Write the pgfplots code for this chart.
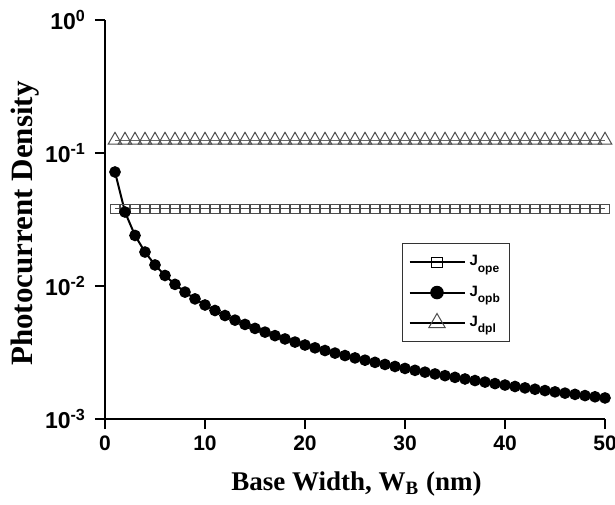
\documentclass[border=0pt]{standalone}
\usepackage{pgfplots}
\pgfplotsset{compat=1.18}
\usepackage{pgfplotstable}
\usepackage{fontspec}
\setmainfont{Liberation Serif}
\newfontfamily\arial{Liberation Sans}
\newcommand{\sub}[1]{\raisebox{-3.2pt}{\fontsize{6}{7}\selectfont #1}}

\pgfplotstableread{
x ope opb dpl
1 0.038 0.072 0.125
2 0.038 0.036 0.125
3 0.038 0.024 0.125
4 0.038 0.018 0.125
5 0.038 0.0144 0.125
6 0.038 0.012 0.125
7 0.038 0.01029 0.125
8 0.038 0.009 0.125
9 0.038 0.008 0.125
10 0.038 0.0072 0.125
11 0.038 0.006545 0.125
12 0.038 0.006 0.125
13 0.038 0.005538 0.125
14 0.038 0.005143 0.125
15 0.038 0.0048 0.125
16 0.038 0.0045 0.125
17 0.038 0.004235 0.125
18 0.038 0.004 0.125
19 0.038 0.003789 0.125
20 0.038 0.0036 0.125
21 0.038 0.003429 0.125
22 0.038 0.003273 0.125
23 0.038 0.00313 0.125
24 0.038 0.003 0.125
25 0.038 0.00288 0.125
26 0.038 0.002769 0.125
27 0.038 0.002667 0.125
28 0.038 0.002571 0.125
29 0.038 0.002483 0.125
30 0.038 0.0024 0.125
31 0.038 0.002323 0.125
32 0.038 0.00225 0.125
33 0.038 0.002182 0.125
34 0.038 0.002118 0.125
35 0.038 0.002057 0.125
36 0.038 0.002 0.125
37 0.038 0.001946 0.125
38 0.038 0.001895 0.125
39 0.038 0.001846 0.125
40 0.038 0.0018 0.125
41 0.038 0.001756 0.125
42 0.038 0.001714 0.125
43 0.038 0.001674 0.125
44 0.038 0.001636 0.125
45 0.038 0.0016 0.125
46 0.038 0.001565 0.125
47 0.038 0.001532 0.125
48 0.038 0.0015 0.125
49 0.038 0.001469 0.125
50 0.038 0.00144 0.125
}\data

\begin{document}
\begin{tikzpicture}[x=1pt,y=1pt]
\path[use as bounding box] (-52.5,-42.5) rectangle (255,209.5);
\begin{axis}[
  at={(0,0)}, anchor=south west,
  scale only axis, width=250pt, height=199.5pt,
  xmin=0, xmax=50, ymode=log, ymin=1e-3, ymax=1,
  axis lines*=left,
  axis line style={line width=1pt},
  tick align=outside, major tick length=5pt,
  tick style={line width=1pt, black},
  xtick={0,10,20,30,40,50},
  ytick={1e-3,1e-2,1e-1,1},
  yticklabels={10\textsuperscript{-3},10\textsuperscript{-2},10\textsuperscript{-1},10\textsuperscript{0}},
  xminorticks=false, yminorticks=false,
  /pgf/number format/assume math mode=true,
  ticklabel style={font=\arial\bfseries\fontsize{10.5}{12}\selectfont},
  yticklabel style={font=\arial\bfseries\fontsize{11.5}{13}\selectfont, xshift=-1pt},
  xlabel={Base Width, W\textsubscript{B} (nm)},
  ylabel={Photocurrent Density},
  label style={font=\bfseries\fontsize{13.5}{15}\selectfont},
  xlabel style={at={(axis description cs:0.503,-0.163)}, anchor=center},
  ylabel style={at={(axis description cs:-0.16,0.49)}, anchor=center, font=\bfseries\fontsize{15.5}{17}\selectfont},
  legend style={at={(0.594,0.441)}, anchor=north west, draw=black!80, line width=0.5pt,
    font=\arial\bfseries\fontsize{7.5}{8}\selectfont, inner xsep=3pt, inner ysep=4pt,
    row sep=4.5pt, cells={anchor=west}},
  legend image code/.code={%
    \draw[#1, line width=1pt, black, mark repeat=2, mark phase=2, every mark/.append style={scale=1.2}]
      plot coordinates {(0pt,0pt) (13.75pt,0pt) (27.5pt,0pt)};},
]
\addplot[black!70, line width=0.5pt, mark=square, mark size=2.1pt, mark options={fill=white, solid, line width=0.5pt}]
  table[x=x, y=ope] {\data};
\addlegendentry{J\sub{ope}}
\addplot[black, line width=1pt, mark=*, mark size=2.4pt, mark options={fill=black}]
  table[x=x, y=opb] {\data};
\addlegendentry{J\sub{opb}}
\addplot[black!60, line width=0.6pt, mark=triangle, mark size=3.9pt, mark options={fill=white, draw=black!70, solid, line width=0.5pt}]
  table[x=x, y=dpl] {\data};
\addlegendentry{J\sub{dpl}}
\end{axis}
\end{tikzpicture}
\end{document}
